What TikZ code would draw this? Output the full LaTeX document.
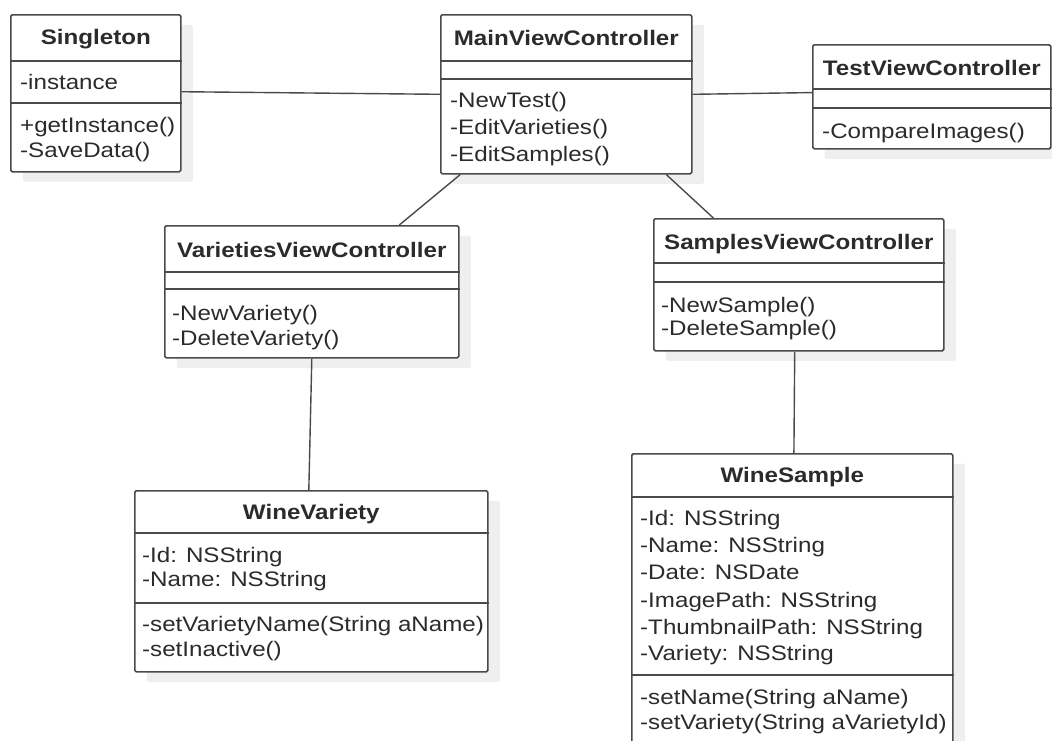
\documentclass[tikz,border=0pt]{standalone}
\usepackage{fontspec}
\setmainfont{Liberation Sans}[FakeStretch=1.15]
\usetikzlibrary{calc,shadows}
\definecolor{ln}{HTML}{4A4A4A}
\definecolor{tx}{HTML}{2B2B2B}
\definecolor{sh}{HTML}{EFEFEF}
\tikzset{
  cls/.style={draw=ln, line width=1.6pt, fill=white, rounded corners=1.5pt,
    anchor=north west, inner sep=0pt,
    drop shadow={shadow xshift=12pt, shadow yshift=-10pt, fill=sh, opacity=1}},
  sep/.style={draw=ln, line width=2pt},
  conn/.style={draw=ln, line width=1.4pt},
  hdr/.style={font=\fontsize{21}{25}\selectfont\bfseries, text=tx, inner sep=0pt,
    text height=15pt, text depth=0pt, anchor=center},
  mem/.style={font=\fontsize{21}{25}\selectfont, text=tx, inner sep=0pt,
    text height=15pt, text depth=0pt, anchor=west},
}
\begin{document}
\begin{tikzpicture}[x=1pt,y=-1pt]
\clip (0,0) rectangle (1052,740);
\fill[white] (0,0) rectangle (1052,740);

% ---------- Singleton
\node[cls, minimum width=170pt, minimum height=157pt] (single) at (10,14) {};
\draw[sep] ($(single.north west)+(0,47)$) -- ($(single.north east)+(0,47)$);
\draw[sep] ($(single.north west)+(0,89)$) -- ($(single.north east)+(0,89)$);
\node[hdr] (singleT) at ($(single.north)+(0,23)$) {Singleton};
\node[mem] (singleA1) at (20,82) {-instance};
\node[mem] (singleM1) at (20,125) {+getInstance()};
\node[mem] (singleM2) at (20,150) {-SaveData()};

% ---------- MainViewController
\node[cls, minimum width=251pt, minimum height=159pt] (main) at (440,14) {};
\draw[sep] ($(main.north west)+(0,47)$) -- ($(main.north east)+(0,47)$);
\draw[sep] ($(main.north west)+(0,65)$) -- ($(main.north east)+(0,65)$);
\node[hdr] (mainT) at ($(main.north)+(0,24)$) {MainViewController};
\node[mem] (mainM1) at (450,100) {-NewTest()};
\node[mem] (mainM2) at (450,127) {-EditVarieties()};
\node[mem] (mainM3) at (450,154) {-EditSamples()};

% ---------- TestViewController
\node[cls, minimum width=238pt, minimum height=104pt] (test) at (812,44) {};
\draw[sep] ($(test.north west)+(0,45)$) -- ($(test.north east)+(0,45)$);
\draw[sep] ($(test.north west)+(0,64)$) -- ($(test.north east)+(0,64)$);
\node[hdr] (testT) at ($(test.north)+(0,24)$) {TestViewController};
\node[mem] (testM1) at (822,131) {-CompareImages()};

% ---------- VarietiesViewController
\node[cls, minimum width=294pt, minimum height=132pt] (var) at (164,225) {};
\draw[sep] ($(var.north west)+(0,47)$) -- ($(var.north east)+(0,47)$);
\draw[sep] ($(var.north west)+(0,64)$) -- ($(var.north east)+(0,64)$);
\node[hdr] (varT) at ($(var.north)+(0,25)$) {VarietiesViewController};
\node[mem] (varM1) at (172,313) {-NewVariety()};
\node[mem] (varM2) at (172,338) {-DeleteVariety()};

% ---------- SamplesViewController
\node[cls, minimum width=290pt, minimum height=132pt] (samp) at (653,218) {};
\draw[sep] ($(samp.north west)+(0,45)$) -- ($(samp.north east)+(0,45)$);
\draw[sep] ($(samp.north west)+(0,64)$) -- ($(samp.north east)+(0,64)$);
\node[hdr] (sampT) at ($(samp.north)+(0,24)$) {SamplesViewController};
\node[mem] (sampM1) at (661,305) {-NewSample()};
\node[mem] (sampM2) at (661,328) {-DeleteSample()};

% ---------- WineVariety
\node[cls, minimum width=353pt, minimum height=181pt] (wv) at (134,490) {};
\draw[sep] ($(wv.north west)+(0,43)$) -- ($(wv.north east)+(0,43)$);
\draw[sep] ($(wv.north west)+(0,113)$) -- ($(wv.north east)+(0,113)$);
\node[hdr] (wvT) at ($(wv.north)+(0,22)$) {WineVariety};
\node[mem] (wvA1) at (142,555) {-Id: NSString};
\node[mem] (wvA2) at (142,579) {-Name: NSString};
\node[mem] (wvM1) at (142,624) {-setVarietyName(String aName)};
\node[mem] (wvM2) at (142,649) {-setInactive()};

% ---------- WineSample
\node[cls, minimum width=321pt, minimum height=320pt] (ws) at (631,453) {};
\draw[sep] ($(ws.north west)+(0,44)$) -- ($(ws.north east)+(0,44)$);
\draw[sep] ($(ws.north west)+(0,222)$) -- ($(ws.north east)+(0,222)$);
\node[hdr] (wsT) at ($(ws.north)+(0,22)$) {WineSample};
\node[mem] (wsA1) at (640,518) {-Id: NSString};
\node[mem] (wsA2) at (640,545) {-Name: NSString};
\node[mem] (wsA3) at (640,572) {-Date: NSDate};
\node[mem] (wsA4) at (640,600) {-ImagePath: NSString};
\node[mem] (wsA5) at (640,627) {-ThumbnailPath: NSString};
\node[mem] (wsA6) at (640,653) {-Variety: NSString};
\node[mem] (wsM1) at (640,697) {-setName(String aName)};
\node[mem] (wsM2) at (640,722) {-setVariety(String aVarietyId)};

% ---------- connectors
\draw[conn] ($(single.north east)!0.49!(single.south east)$) -- ($(main.north west)!0.5!(main.south west)$);
\draw[conn] ($(main.north east)!0.5!(main.south east)$) -- ($(test.north west)!0.46!(test.south west)$);
\draw[conn] ($(main.south west)!0.08!(main.south east)$) -- ($(var.north west)!0.796!(var.north east)$);
\draw[conn] ($(main.south west)!0.896!(main.south east)$) -- ($(samp.north west)!0.207!(samp.north east)$);
\draw[conn] ($(var.south west)!0.5!(var.south east)$) -- ($(wv.north west)!0.493!(wv.north east)$);
\draw[conn] ($(samp.south west)!0.486!(samp.south east)$) -- ($(ws.north west)!0.505!(ws.north east)$);
\end{tikzpicture}
\end{document}
